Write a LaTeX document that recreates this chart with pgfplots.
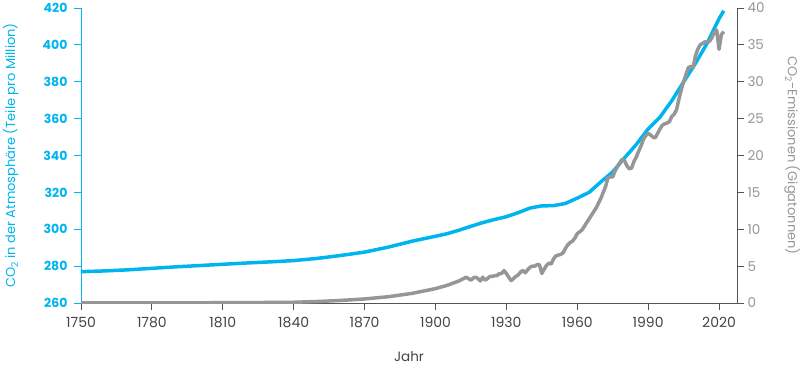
\documentclass[border=0pt]{standalone}
\usepackage{pgfplots}
\pgfplotsset{compat=1.18}
\usepackage{fontspec}
\setmainfont{Poppins}
\definecolor{co2blue}{RGB}{0,181,239}
\definecolor{emgray}{RGB}{150,150,150}
\definecolor{axdark}{RGB}{85,85,85}
\definecolor{txtdark}{RGB}{68,68,68}
\begin{document}
\begin{tikzpicture}
\begin{axis}[
  at={(0,0)}, anchor=south west,
  scale only axis, width=656pt, height=295pt,
  xmin=1750, xmax=2027.6, ymin=260, ymax=420,
  axis x line*=bottom, axis y line*=left,
  separate axis lines,
  x axis line style={axdark, line width=0.8pt, -},
  y axis line style={co2blue, line width=0.8pt, -},
  xtick={1750,1780,...,2020}, ytick={260,280,...,420},
  tick align=outside, major tick length=7pt,
  xtick style={axdark, line width=0.8pt},
  ytick style={co2blue, line width=0.8pt},
  /pgf/number format/assume math mode=true,
  /pgf/number format/1000 sep={},
  xticklabel style={font=\fontsize{14}{16}\selectfont, txtdark, yshift=-4pt},
  yticklabel style={font=\fontsize{12.5}{15}\selectfont\bfseries, co2blue, xshift=-3pt},
  xlabel={Jahr},
  ylabel={CO\textsubscript{2} in der Atmosphäre (Teile pro Million)},
  every axis x label/.style={at={(axis description cs:0.5,-0.183)}, anchor=center, font=\fontsize{13.5}{15}\selectfont, txtdark},
  every axis y label/.style={at={(axis description cs:-0.107,0.5)}, rotate=90, anchor=center, font=\fontsize{13}{15}\selectfont, co2blue},
]
\addplot[co2blue, line width=3.5pt, line join=round] coordinates {
(1750,277.0) (1760,277.4) (1770,278.0) (1780,278.8) (1790,279.6) (1800,280.3)
(1810,281.0) (1820,281.7) (1830,282.3) (1840,283.0) (1850,284.2) (1860,285.8)
(1870,287.6) (1880,290.3) (1890,293.5) (1900,296.2) (1905,297.6) (1910,299.5)
(1915,301.6) (1920,303.6) (1925,305.3) (1930,306.8) (1935,309.0) (1940,311.5)
(1945,312.7) (1950,312.8) (1955,314.0) (1960,316.9) (1965,320.0) (1970,325.7)
(1975,331.1) (1980,338.7) (1985,346.0) (1990,354.4) (1995,360.8) (2000,369.7)
(2005,379.9) (2010,389.9) (2015,401.0) (2020,414.2) (2022,418.5)
};
\end{axis}
\begin{axis}[
  at={(0,0)}, anchor=south west,
  scale only axis, width=656pt, height=295pt,
  xmin=1750, xmax=2027.6, ymin=0, ymax=40,
  axis x line=none, axis y line*=right,
  y axis line style={axdark, line width=0.8pt, -},
  ytick={0,5,...,40},
  tick align=outside, major tick length=7pt,
  ytick style={axdark, line width=0.8pt},
  /pgf/number format/assume math mode=true,
  yticklabel style={font=\fontsize{13.5}{15}\selectfont, emgray},
  ylabel={CO\textsubscript{2}-Emissionen (Gigatonnen)},
  every axis y label/.style={at={(axis description cs:1.084,0.5)}, rotate=-90, anchor=center, font=\fontsize{13}{15}\selectfont, emgray},
]
\addplot[emgray, line width=3.5pt, line join=round] coordinates {
(1750,0.01) (1780,0.02) (1800,0.03) (1820,0.05) (1840,0.1) (1850,0.2) (1860,0.35)
(1870,0.55) (1880,0.85) (1890,1.3) (1900,1.95) (1905,2.4) (1910,3.0) (1913,3.5)
(1915,3.1) (1916,3.4) (1917,3.5) (1918,3.3) (1919,3.0) (1920,3.5) (1921,3.1)
(1922,3.3) (1923,3.6) (1924,3.6) (1925,3.7) (1926,3.7) (1927,4.0) (1928,4.0)
(1929,4.4) (1930,4.0) (1931,3.5) (1932,3.05) (1933,3.3) (1934,3.6) (1935,3.8)
(1936,4.2) (1937,4.4) (1938,4.1) (1939,4.5) (1940,4.85) (1941,5.0) (1942,5.0)
(1943,5.2) (1944,5.2) (1945,4.0) (1946,4.6) (1947,5.1) (1948,5.4) (1949,5.3)
(1950,6.0) (1951,6.4) (1952,6.5) (1953,6.6) (1954,6.8) (1955,7.4) (1956,7.9)
(1957,8.2) (1958,8.4) (1959,8.8) (1960,9.4) (1962,9.9) (1964,10.9) (1966,11.9)
(1968,12.9) (1970,14.2) (1971,15.0) (1972,15.8) (1973,17.0) (1974,17.1)
(1975,17.1) (1976,17.9) (1977,18.5) (1978,19.0) (1979,19.5) (1980,19.3)
(1981,18.6) (1982,18.2) (1983,18.3) (1984,19.2) (1985,19.8) (1986,20.6)
(1987,21.3) (1988,22.2) (1989,22.7) (1990,23.0) (1991,22.8) (1992,22.5)
(1993,22.4) (1994,23.0) (1995,23.6) (1996,24.1) (1997,24.3) (1998,24.4)
(1999,24.6) (2000,25.3) (2001,25.6) (2002,26.2) (2003,27.6) (2004,28.9)
(2005,30.0) (2006,31.0) (2007,31.9) (2008,32.1) (2009,31.9) (2010,33.5)
(2011,34.4) (2012,35.0) (2013,35.2) (2014,35.4) (2015,35.4) (2016,35.5)
(2017,36.0) (2018,36.7) (2019,37.0) (2020,34.4) (2021,36.4) (2022,36.8)
};
\end{axis}
\pgfresetboundingbox
\path[use as bounding box] (-81pt,-65pt) rectangle (719pt,303pt);
\end{tikzpicture}
\end{document}
